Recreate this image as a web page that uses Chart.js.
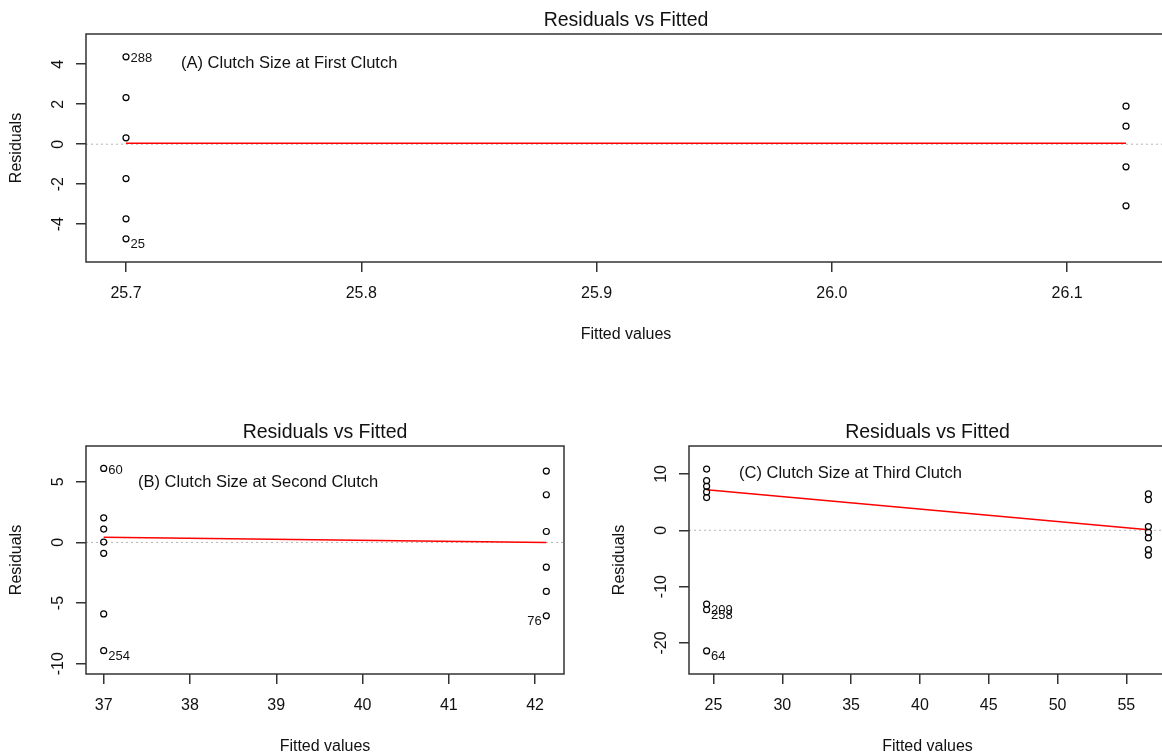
<!DOCTYPE html>
<html>
<head>
<meta charset="utf-8">
<title>Residuals vs Fitted</title>
<script src="https://cdn.jsdelivr.net/npm/chart.js@4.4.1/dist/chart.umd.min.js"></script>
<style>
  html, body { margin: 0; padding: 0; background: #fff; width: 1162px; height: 755px; overflow: hidden; }
  .panel { position: absolute; }
  #wrapA { left: 0; top: 0; }
  #wrapB { left: 0; top: 390px; }
  #wrapC { left: 580px; top: 390px; }
</style>
</head>
<body>
<div class="panel" id="wrapA"><canvas id="plotA" width="1180" height="350"></canvas></div>
<div class="panel" id="wrapB"><canvas id="plotB" width="580" height="365"></canvas></div>
<div class="panel" id="wrapC"><canvas id="plotC" width="600" height="365"></canvas></div>

<script>
// (A) first clutch
const fittedA = [25.7, 25.7, 25.7, 25.7, 25.7, 25.7, 26.125, 26.125, 26.125, 26.125];
const residA = [4.37, 2.33, 0.32, -1.72, -3.73, -4.73, 1.9, 0.9, -1.13, -3.08];
const smoothXA = [25.7, 26.125];
const smoothYA = [0.05, 0.05];
const idIndexA = [0, 5];
const idTextA = ['288', '25'];
const xTicksA = [25.7, 25.8, 25.9, 26.0, 26.1];
const xTickLabelsA = ['25.7', '25.8', '25.9', '26.0', '26.1'];
const yTicksA = [-4, -2, 0, 2, 4];
const yTickLabelsA = ['-4', '-2', '0', '2', '4'];
const xRangeA = [25.683, 26.142];
const yRangeA = [-5.89, 5.51];

// (B) second clutch
const fittedB = [37, 37, 37, 37, 37, 37, 37, 42.13, 42.13, 42.13, 42.13, 42.13, 42.13];
const residB = [6.1, 2.03, 1.1, 0.03, -0.9, -5.9, -8.93, 5.88, 3.93, 0.9, -2.04, -4.04, -6.05];
const smoothXB = [37, 42.13];
const smoothYB = [0.42, 0.0];
const idIndexB = [0, 6, 12];
const idTextB = ['60', '254', '76'];
const xTicksB = [37, 38, 39, 40, 41, 42];
const xTickLabelsB = ['37', '38', '39', '40', '41', '42'];
const yTicksB = [-10, -5, 0, 5];
const yTickLabelsB = ['-10', '-5', '0', '5'];
const xRangeB = [36.795, 42.335];
const yRangeB = [-10.85, 7.95];

// (C) third clutch
const fittedC = [24.5, 24.5, 24.5, 24.5, 24.5, 24.5, 24.5, 24.5, 56.6, 56.6, 56.6, 56.6, 56.6, 56.6, 56.6];
const residC = [10.85, 8.8, 7.8, 6.8, 5.8, -13.1, -14.1, -21.4, 6.45, 5.45, 0.65, -0.35, -1.35, -3.45, -4.4];
const smoothXC = [24.5, 56.6];
const smoothYC = [7.2, 0.1];
const idIndexC = [5, 6, 7];
const idTextC = ['209', '258', '64'];
const xTicksC = [25, 30, 35, 40, 45, 50, 55];
const xTickLabelsC = ['25', '30', '35', '40', '45', '50', '55'];
const yTicksC = [-20, -10, 0, 10];
const yTickLabelsC = ['-20', '-10', '0', '10'];
const xRangeC = [23.22, 57.88];
const yRangeC = [-25.5, 14.95];

const FONT = '"Liberation Sans", Arial, sans-serif';
Chart.defaults.font.family = FONT;
Chart.defaults.color = '#111';

// draws the R style frame, captions, rotated y tick labels and point ids
const rDecor = {
  id: 'rDecor',
  afterDraw(chart, args, opts) {
    const ctx = chart.ctx;
    const a = chart.chartArea;
    const xs = chart.scales.x;
    const ys = chart.scales.y;
    const cx = (a.left + a.right) / 2;
    const cy = (a.top + a.bottom) / 2;
    ctx.save();

    ctx.strokeStyle = '#333';
    ctx.lineWidth = 1.5;
    ctx.strokeRect(a.left, a.top, a.right - a.left, a.bottom - a.top);

    ctx.fillStyle = '#111';
    ctx.textBaseline = 'middle';

    ctx.textAlign = 'center';
    ctx.font = '19.5px ' + FONT;
    ctx.fillText('Residuals vs Fitted', cx, a.top - 13);

    ctx.font = '16px ' + FONT;
    ctx.fillText('Fitted values', cx, a.bottom + 73);

    ctx.save();
    ctx.translate(a.left - 69.5, cy);
    ctx.rotate(-Math.PI / 2);
    ctx.fillText('Residuals', 0, 0);
    ctx.restore();

    ys.ticks.forEach((t, i) => {
      ctx.save();
      ctx.translate(a.left - 27.5, ys.getPixelForValue(t.value));
      ctx.rotate(-Math.PI / 2);
      ctx.fillText(opts.yLabels[i], 0, 0);
      ctx.restore();
    });

    ctx.textAlign = 'left';
    ctx.font = '16.5px ' + FONT;
    ctx.fillText(opts.note, a.left + opts.noteDx, a.top + opts.noteDy);

    // id labels: right of the point on the left half, left of it on the right half
    ctx.font = '13px ' + FONT;
    const mid = (xs.min + xs.max) / 2;
    opts.idIndex.forEach((k, j) => {
      const fx = opts.fitted[k];
      const r = opts.resid[k];
      const px = xs.getPixelForValue(fx);
      const py = ys.getPixelForValue(r) + (r < 0 ? 6 : 1.5);
      if (fx > mid) {
        ctx.textAlign = 'right';
        ctx.fillText(opts.idText[j], px - 4.5, py);
      } else {
        ctx.textAlign = 'left';
        ctx.fillText(opts.idText[j], px + 4.5, py);
      }
    });
    ctx.restore();
  }
};

function makePanel(id, p) {
  const points = p.fitted.map((f, i) => ({ x: f, y: p.resid[i] }));
  const smooth = p.smoothX.map((f, i) => ({ x: f, y: p.smoothY[i] }));
  const zero = [{ x: p.xRange[0], y: 0 }, { x: p.xRange[1], y: 0 }];

  return new Chart(document.getElementById(id).getContext('2d'), {
    type: 'scatter',
    data: {
      datasets: [{
        data: points,
        pointStyle: 'circle',
        pointRadius: 3,
        borderColor: '#000',
        backgroundColor: 'rgba(0,0,0,0)',
        borderWidth: 1.2
      }, {
        type: 'line',
        data: smooth,
        borderColor: '#ff0000',
        borderWidth: 1.5,
        pointRadius: 0,
        fill: false
      }, {
        type: 'line',
        data: zero,
        borderColor: '#b4b4b4',
        borderWidth: 1,
        borderDash: [2, 3],
        pointRadius: 0,
        fill: false
      }]
    },
    options: {
      responsive: false,
      animation: false,
      layout: { padding: { left: 0, top: p.padTop, right: p.padRight, bottom: 0 } },
      plugins: {
        legend: { display: false },
        tooltip: { enabled: false },
        rDecor: {
          note: p.note, noteDx: p.noteDx, noteDy: p.noteDy,
          yLabels: p.yTickLabels,
          fitted: p.fitted, resid: p.resid,
          idIndex: p.idIndex, idText: p.idText
        }
      },
      scales: {
        x: {
          type: 'linear',
          min: p.xRange[0],
          max: p.xRange[1],
          afterBuildTicks: s => { s.ticks = p.xTicks.map(v => ({ value: v })); },
          afterFit: s => { s.height = p.xAxisH; },
          grid: { drawOnChartArea: false, drawTicks: true, tickLength: 10, color: '#333', tickColor: '#333', lineWidth: 1.5 },
          border: { display: false },
          ticks: {
            autoSkip: false, maxRotation: 0, padding: 11.5,
            font: { size: 16 }, color: '#111',
            callback: (v, i) => p.xTickLabels[i]
          }
        },
        y: {
          type: 'linear',
          min: p.yRange[0],
          max: p.yRange[1],
          afterBuildTicks: s => { s.ticks = p.yTicks.map(v => ({ value: v })); },
          afterFit: s => { s.width = p.yAxisW; },
          grid: { drawOnChartArea: false, drawTicks: true, tickLength: 10, color: '#333', tickColor: '#333', lineWidth: 1.5 },
          border: { display: false },
          ticks: { display: false }
        }
      }
    },
    plugins: [rDecor]
  });
}

makePanel('plotA', {
  fitted: fittedA, resid: residA, smoothX: smoothXA, smoothY: smoothYA,
  idIndex: idIndexA, idText: idTextA,
  xTicks: xTicksA, xTickLabels: xTickLabelsA, yTicks: yTicksA, yTickLabels: yTickLabelsA,
  xRange: xRangeA, yRange: yRangeA,
  note: '(A) Clutch Size at First Clutch', noteDx: 95, noteDy: 29,
  padTop: 34, padRight: 14, yAxisW: 86, xAxisH: 88
});

makePanel('plotB', {
  fitted: fittedB, resid: residB, smoothX: smoothXB, smoothY: smoothYB,
  idIndex: idIndexB, idText: idTextB,
  xTicks: xTicksB, xTickLabels: xTickLabelsB, yTicks: yTicksB, yTickLabels: yTickLabelsB,
  xRange: xRangeB, yRange: yRangeB,
  note: '(B) Clutch Size at Second Clutch', noteDx: 52, noteDy: 36,
  padTop: 56, padRight: 16, yAxisW: 86, xAxisH: 81
});

makePanel('plotC', {
  fitted: fittedC, resid: residC, smoothX: smoothXC, smoothY: smoothYC,
  idIndex: idIndexC, idText: idTextC,
  xTicks: xTicksC, xTickLabels: xTickLabelsC, yTicks: yTicksC, yTickLabels: yTickLabelsC,
  xRange: xRangeC, yRange: yRangeC,
  note: '(C) Clutch Size at Third Clutch', noteDx: 50, noteDy: 27,
  padTop: 56, padRight: 14, yAxisW: 109, xAxisH: 81
});
</script>
</body>
</html>
